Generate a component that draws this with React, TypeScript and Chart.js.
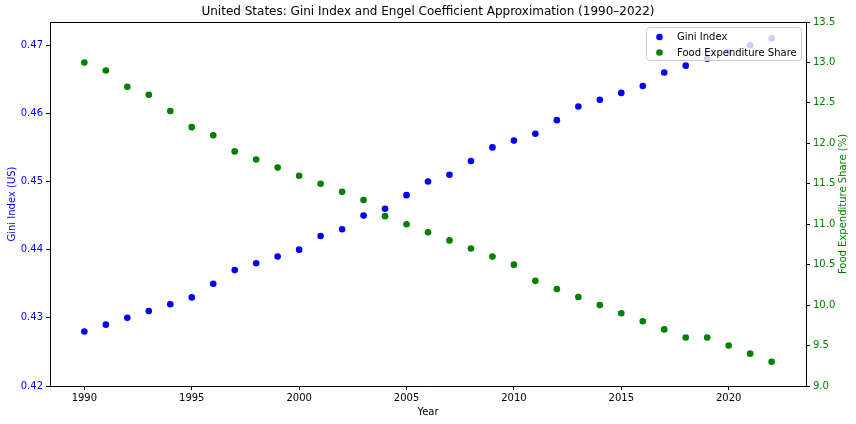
import { useEffect, useRef } from "react";
import { Chart, registerables } from "chart.js";

Chart.register(...registerables);

const TITLE = "United States: Gini Index and Engel Coefficient Approximation (1990–2022)";
const years = [1990, 1991, 1992, 1993, 1994, 1995, 1996, 1997, 1998, 1999, 2000, 2001, 2002, 2003, 2004, 2005, 2006, 2007, 2008, 2009, 2010, 2011, 2012, 2013, 2014, 2015, 2016, 2017, 2018, 2019, 2020, 2021, 2022];
const gini = [0.428, 0.429, 0.43, 0.431, 0.432, 0.433, 0.435, 0.437, 0.438, 0.439, 0.44, 0.442, 0.443, 0.445, 0.446, 0.448, 0.45, 0.451, 0.453, 0.455, 0.456, 0.457, 0.459, 0.461, 0.462, 0.463, 0.464, 0.466, 0.467, 0.468, 0.469, 0.47, 0.471];
const food = [13.0, 12.9, 12.7, 12.6, 12.4, 12.2, 12.1, 11.9, 11.8, 11.7, 11.6, 11.5, 11.4, 11.3, 11.1, 11.0, 10.9, 10.8, 10.7, 10.6, 10.5, 10.3, 10.2, 10.1, 10.0, 9.9, 9.8, 9.7, 9.6, 9.6, 9.5, 9.4, 9.3];
const xTicks = [1990, 1995, 2000, 2005, 2010, 2015, 2020];
const giniTicks = [0.42, 0.43, 0.44, 0.45, 0.46, 0.47];
const foodTicks = [9.0, 9.5, 10.0, 10.5, 11.0, 11.5, 12.0, 12.5, 13.0, 13.5];
const legendLabels = ["Gini Index", "Food Expenditure Share"];
const RIGHT_TITLE = "Food Expenditure Share (%)";
const BLUE = "#0000ff";
const GREEN = "#008000";
const FONT = "'DejaVu Sans', sans-serif";

export default function App() {
  const ref = useRef<HTMLCanvasElement | null>(null);

  useEffect(() => {
    document.body.style.margin = "0";
    const canvas = ref.current;
    if (!canvas) return;

    const titlePlugin = {
      id: "customTitle",
      afterDraw(chart: any) {
        const ctx = chart.ctx;
        ctx.save();
        ctx.fillStyle = "#000";
        ctx.font = `12px ${FONT}`;
        ctx.textAlign = "center";
        ctx.textBaseline = "middle";
        const a = chart.chartArea;
        ctx.fillText(TITLE, (a.left + a.right) / 2, 12);
        // top frame line
        ctx.strokeStyle = "#000";
        ctx.lineWidth = 1;
        ctx.beginPath();
        ctx.moveTo(a.left, Math.round(a.top) + 0.5);
        ctx.lineTo(a.right, Math.round(a.top) + 0.5);
        ctx.stroke();
        // right axis title, rotated like matplotlib (reads bottom to top)
        ctx.save();
        ctx.translate(chart.width - 13, (a.top + a.bottom) / 2);
        ctx.rotate(-Math.PI / 2);
        ctx.fillStyle = GREEN;
        ctx.font = `10px ${FONT}`;
        ctx.textAlign = "center";
        ctx.textBaseline = "middle";
        ctx.fillText(RIGHT_TITLE, 0, 0);
        ctx.restore();
        ctx.restore();
      },
    };

    const legendPlugin = {
      id: "customLegend",
      afterDatasetsDraw(chart: any) {
        const ctx = chart.ctx;
        const a = chart.chartArea;
        const w = 155;
        const h = 33;
        const x = a.right - 5 - w;
        const y = a.top + 5;
        ctx.save();
        ctx.fillStyle = "rgba(255,255,255,0.8)";
        ctx.strokeStyle = "#cccccc";
        ctx.lineWidth = 1;
        ctx.beginPath();
        (ctx as any).roundRect(x + 0.5, y + 0.5, w, h, 3);
        ctx.fill();
        ctx.stroke();
        const colors = [BLUE, GREEN];
        ctx.font = `10px ${FONT}`;
        ctx.textBaseline = "middle";
        ctx.textAlign = "left";
        legendLabels.forEach((lab, i) => {
          const cy = y + 10 + i * 15.5;
          ctx.fillStyle = colors[i];
          ctx.beginPath();
          ctx.arc(x + 13.5, cy, 3.3, 0, Math.PI * 2);
          ctx.fill();
          ctx.fillStyle = "#000";
          ctx.fillText(lab, x + 31, cy + 0.5);
        });
        ctx.restore();
      },
    };

    const chart = new Chart(canvas, {
      type: "scatter",
      data: {
        datasets: [
          {
            label: legendLabels[0],
            data: years.map((yr, i) => ({ x: yr, y: gini[i] })),
            backgroundColor: BLUE,
            borderWidth: 0,
            pointRadius: 3.3,
            yAxisID: "y",
          },
          {
            label: legendLabels[1],
            data: years.map((yr, i) => ({ x: yr, y: food[i] })),
            backgroundColor: GREEN,
            borderWidth: 0,
            pointRadius: 3.3,
            yAxisID: "y2",
          },
        ],
      },
      plugins: [titlePlugin, legendPlugin],
      options: {
        responsive: false,
        animation: false,
        devicePixelRatio: 1,
        layout: { padding: { top: 22, left: 0, right: 0, bottom: 0 } },
        font: { family: FONT, size: 10 },
        plugins: {
          legend: { display: false },
          title: { display: false },
          tooltip: { enabled: false },
        },
        scales: {
          x: {
            type: "linear",
            min: 1988.4,
            max: 2023.6,
            afterBuildTicks: (s: any) => {
              s.ticks = xTicks.map((v) => ({ value: v }));
            },
            afterFit: (s: any) => {
              s.height = 38;
            },
            grid: { drawOnChartArea: false, drawTicks: true, tickLength: 4, color: "#000" },
            border: { display: true, color: "#000" },
            ticks: { color: "#000", font: { family: FONT, size: 10 }, padding: 2, callback: (v: any) => String(v), maxRotation: 0 },
            title: { display: true, text: "Year", color: "#000", font: { family: FONT, size: 10 }, padding: { top: 0, bottom: 6 } },
          },
          y: {
            type: "linear",
            position: "left",
            min: 0.42,
            max: 0.4734,
            afterBuildTicks: (s: any) => {
              s.ticks = giniTicks.map((v) => ({ value: v }));
            },
            afterFit: (s: any) => {
              s.width = 50;
            },
            grid: { drawOnChartArea: false, drawTicks: true, tickLength: 4, color: "#000" },
            border: { display: true, color: "#000" },
            ticks: { color: BLUE, font: { family: FONT, size: 10 }, padding: 3, callback: (v: any) => Number(v).toFixed(2) },
            title: { display: true, text: "Gini Index (US)", color: BLUE, font: { family: FONT, size: 10 }, padding: { top: 6, bottom: 0 } },
          },
          y2: {
            type: "linear",
            position: "right",
            min: 9.0,
            max: 13.5,
            afterBuildTicks: (s: any) => {
              s.ticks = foodTicks.map((v) => ({ value: v }));
            },
            afterFit: (s: any) => {
              s.width = 50;
            },
            grid: { drawOnChartArea: false, drawTicks: true, tickLength: 4, color: "#000" },
            border: { display: true, color: "#000" },
            ticks: { color: GREEN, font: { family: FONT, size: 10 }, padding: 3, callback: (v: any) => Number(v).toFixed(1) },
            title: { display: false },
          },
        },
      } as any,
    });

    return () => chart.destroy();
  }, []);

  return <canvas ref={ref} width={856} height={424} style={{ display: "block", width: 856, height: 424 }} />;
}
